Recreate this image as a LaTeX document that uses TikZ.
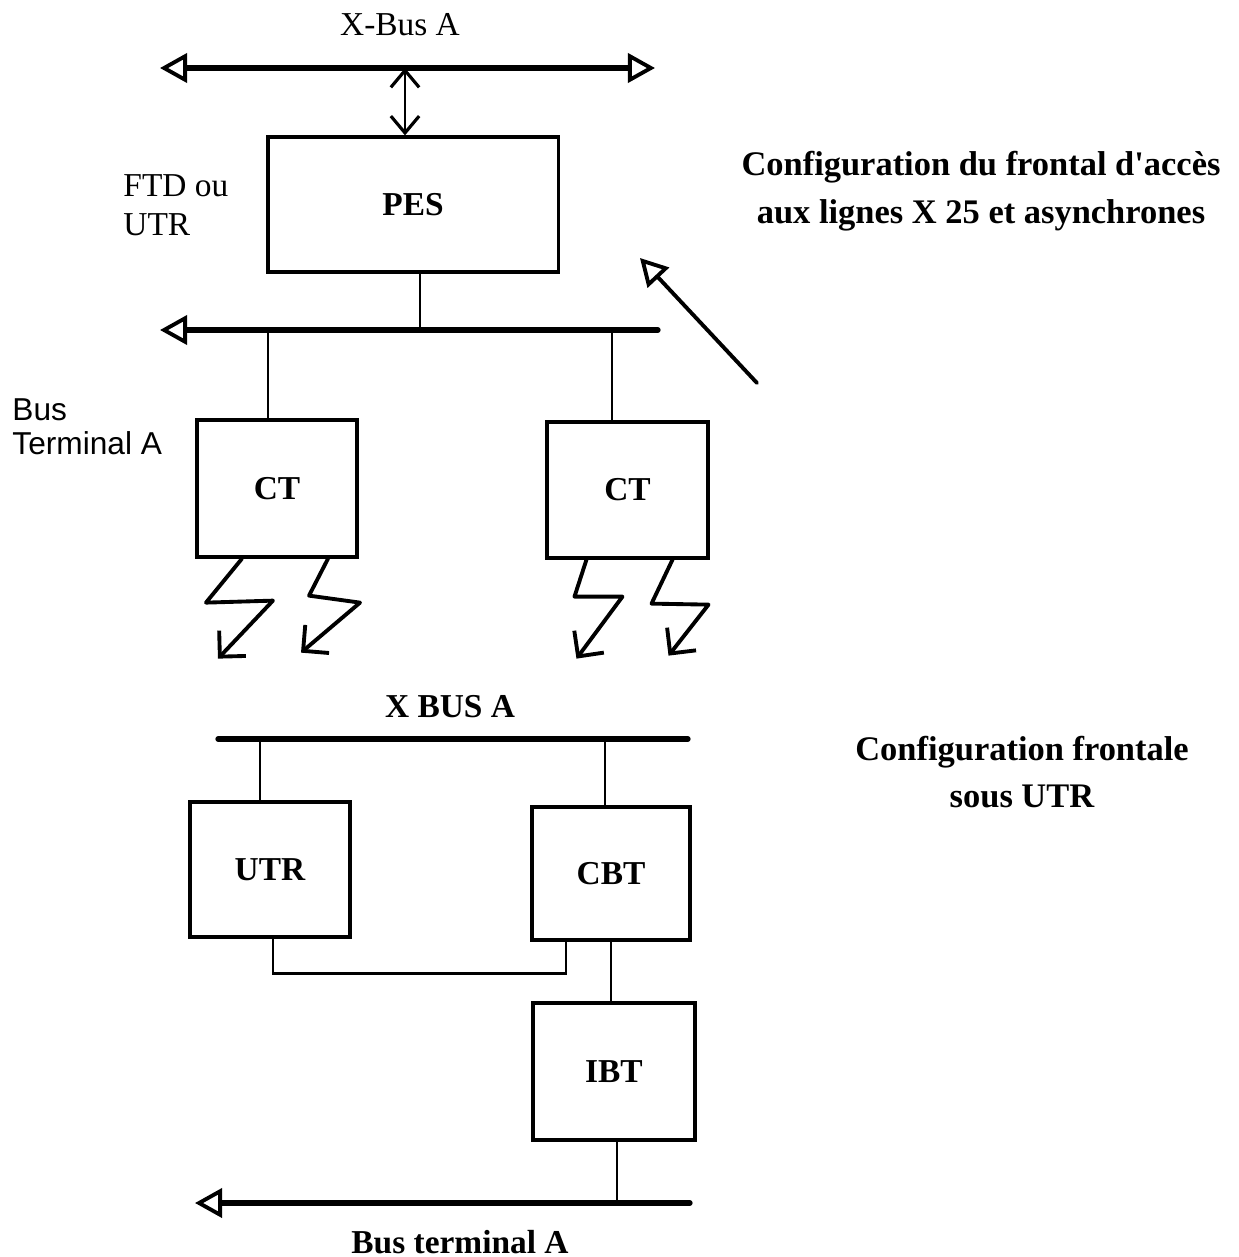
\documentclass[tikz,border=0pt]{standalone}
\usepackage{fontspec}
\setmainfont{Liberation Serif}
\setsansfont{Liberation Sans}
\usetikzlibrary{arrows.meta}
\tikzset{
  opentri/.tip={Triangle[open, length=0.27cm, width=0.29cm, line width=1.1pt]},
  barb/.tip={Straight Barb[angle=80:0.22cm, line width=0.9pt]},
  boltbarb/.tip={Straight Barb[angle=90:0.26cm, line width=1.1pt]},
  unitbox/.style={
    draw=black,
    line width=0.9pt,
    inner sep=0pt,
    font=\fontsize{9.5}{11}\selectfont\bfseries,
  },
  busline/.style={line width=1.5pt},
  wire/.style={line width=0.75pt},
  bolt/.style={line width=1.1pt, line join=round, -boltbarb},
  plainnote/.style={font=\fontsize{9.5}{11}\selectfont, align=left},
  sansnote/.style={font=\sffamily\fontsize{9}{9.6}\selectfont, align=left},
  boldnote/.style={font=\fontsize{9.5}{11}\selectfont\bfseries},
  titlenote/.style={font=\fontsize{9.8}{13.6}\selectfont\bfseries, align=center},
}
\begin{document}
\begin{tikzpicture}[x=0.01cm, y=-0.01cm, line cap=round]
  \useasboundingbox (0,0) rectangle (1239,1257);

  % upper configuration: front end for X25 and async lines
  \node[boldnote, font=\fontsize{9.5}{11}\selectfont] (xbuslabel) at (400,25) {X-Bus A};
  \coordinate (xbusL) at (160,68);
  \coordinate (xbusR) at (655,68);
  \coordinate (xtap) at (405,68);
  \draw[busline, opentri-opentri] (xbusL) -- (xbusR);

  \node[unitbox, minimum width=2.9cm, minimum height=1.35cm] (pes) at (413,204.5) {PES};
  \draw[wire, barb-barb] (xtap) -- (xtap |- pes.north);
  \node[plainnote, anchor=west] (ftd) at (111,205) {FTD ou\\UTR};

  \coordinate (tbusL) at (160,330);
  \coordinate (tbusR) at (658,330);
  \draw[busline, opentri-] (tbusL) -- (tbusR);
  \draw[wire] ([xshift=0.07cm]pes.south) -- ([xshift=0.07cm]pes.south |- tbusL);

  \node[unitbox, minimum width=1.6cm, minimum height=1.37cm] (ct1) at (277,488.5) {CT};
  \node[unitbox, minimum width=1.61cm, minimum height=1.36cm] (ct2) at (627.5,490) {CT};
  \draw[wire] ([xshift=-0.09cm]ct1.north |- tbusL) -- ([xshift=-0.09cm]ct1.north);
  \draw[wire] ([xshift=-0.155cm]ct2.north |- tbusL) -- ([xshift=-0.155cm]ct2.north);
  \node[sansnote, anchor=west] (tbuslabel) at (0,427) {Bus\\Terminal A};

  % lines leaving the terminal couplers
  \draw[bolt] ([xshift=-0.35cm]ct1.south) -- ++(-36,44) -- ++(67,-2) -- ++(-55,58);
  \draw[bolt] ([xshift=0.51cm]ct1.south) -- ++(-19,37) -- ++(51,7) -- ++(-59,50);
  \draw[bolt] ([xshift=-0.41cm]ct2.south) -- ++(-12,37) -- ++(48,0) -- ++(-46,62);
  \draw[bolt] ([xshift=0.45cm]ct2.south) -- ++(-21,44) -- ++(57,1) -- ++(-40,51);

  \coordinate (ptrtail) at (757,383);
  \coordinate (ptrtip) at (640,258);
  \draw[line width=1.1pt, -opentri] (ptrtail) -- (ptrtip);
  \node[titlenote] (title1) at (981,191)
    {Configuration du frontal d\textquotesingle accès\\aux lignes X 25 et asynchrones};

  % lower configuration: front end under UTR
  \node[boldnote] (lxbuslabel) at (450,707) {X BUS A};
  \coordinate (lxbusL) at (218,739);
  \coordinate (lxbusR) at (688,739);
  \draw[busline] (lxbusL) -- (lxbusR);

  \node[unitbox, minimum width=1.6cm, minimum height=1.35cm] (utr) at (270,869.5) {UTR};
  \node[unitbox, minimum width=1.58cm, minimum height=1.33cm] (cbt) at (611,873.5) {CBT};
  \node[unitbox, minimum width=1.62cm, minimum height=1.37cm] (ibt) at (614,1071.5) {IBT};
  \draw[wire] ([xshift=-0.1cm]utr.north |- lxbusL) -- ([xshift=-0.1cm]utr.north);
  \draw[wire] ([xshift=-0.06cm]cbt.north |- lxbusL) -- ([xshift=-0.06cm]cbt.north);
  \draw[wire] ([xshift=0.03cm]utr.south) -- ++(0,35) -| ([xshift=-0.45cm]cbt.south);
  \draw[wire] (cbt.south) -- (cbt.south |- ibt.north);

  \coordinate (bbusL) at (195,1203);
  \coordinate (bbusR) at (690,1203);
  \draw[busline, opentri-] (bbusL) -- (bbusR);
  \draw[wire] ([xshift=0.03cm]ibt.south) -- ([xshift=0.03cm]ibt.south |- bbusL);
  \node[boldnote] (bbuslabel) at (460,1242) {Bus terminal A};

  \node[titlenote] (title2) at (1022,772) {Configuration frontale\\sous UTR};
\end{tikzpicture}
\end{document}
